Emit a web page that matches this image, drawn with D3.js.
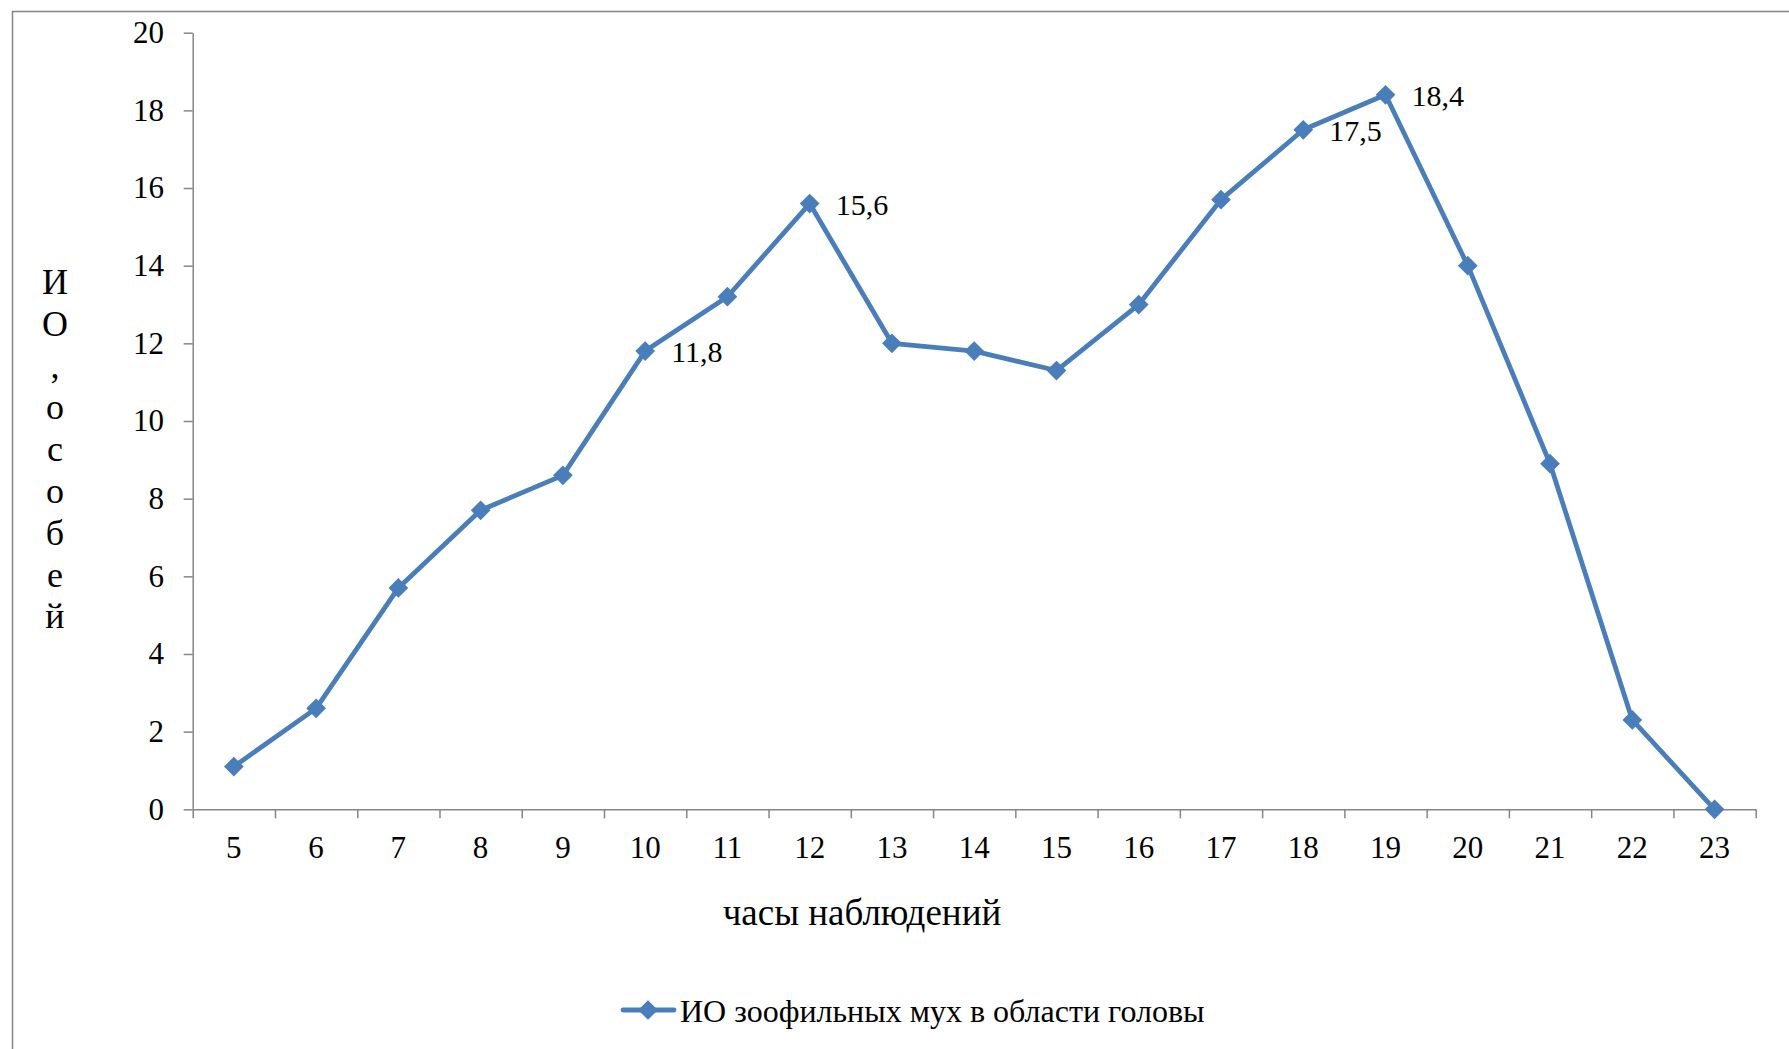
<!DOCTYPE html>
<html>
<head>
<meta charset="utf-8">
<script src="https://cdn.jsdelivr.net/npm/d3@7/dist/d3.min.js"></script>
<style>
  html, body { margin: 0; padding: 0; background: #fff; }
  svg { display: block; }
  text { font-family: "Liberation Serif", "Times New Roman", serif; fill: #000; }
</style>
</head>
<body>
<svg id="chart" width="1789" height="1049"></svg>
<script>
// Hours of observation
const hours = [5, 6, 7, 8, 9, 10, 11, 12, 13, 14, 15, 16, 17, 18, 19, 20, 21, 22, 23];
// Abundance index (individuals) of zoophilic flies on the head region
const values = [1.1, 2.6, 5.7, 7.7, 8.6, 11.8, 13.2, 15.6, 12.0, 11.8, 11.3, 13.0, 15.7, 17.5, 18.4, 14.0, 8.9, 2.3, 0];
// Points that carry a value label
const labelledHours = [10, 12, 18, 19];
const yTicks = [0, 2, 4, 6, 8, 10, 12, 14, 16, 18, 20];

const seriesName = "ИО зоофильных мух в области головы";
const xTitle = "часы наблюдений";
const yTitle = "ИО, особей";

const W = 1789, H = 1049;
const plot = { left: 192.7, right: 1755.7, top: 32.7, bottom: 809.3 };
const lineColor = "#4a7ebb";
const axisColor = "#868686";
const tickFont = 31;
const labelFont = 30;
const titleFont = 37;
const legendFont = 32;

const svg = d3.select("#chart");

// outer chart frame
svg.append("rect")
  .attr("x", 12.5).attr("y", 11.5)
  .attr("width", W + 20).attr("height", H + 20)
  .attr("fill", "none").attr("stroke", axisColor).attr("stroke-width", 1.5);

const x = d3.scaleBand().domain(hours).range([plot.left, plot.right]).padding(0);
const xEdges = d3.scaleLinear().domain([0, hours.length]).range([plot.left, plot.right]);
const y = d3.scaleLinear().domain([0, 20]).range([plot.bottom, plot.top]);

const cx = h => x(h) + x.bandwidth() / 2;

// y axis
const yAxis = svg.append("g")
  .attr("transform", `translate(${plot.left},0)`)
  .call(d3.axisLeft(y).tickValues(yTicks).tickSize(9).tickPadding(19.7).tickSizeOuter(0));

// x axis: tick marks on category boundaries
const xAxisTicks = svg.append("g")
  .attr("transform", `translate(0,${plot.bottom})`)
  .call(d3.axisBottom(xEdges).tickValues(d3.range(hours.length + 1)).tickSize(9).tickSizeOuter(0).tickFormat(""));

// x axis labels at category centres
const xAxisLabels = svg.append("g")
  .attr("transform", `translate(0,${plot.bottom})`)
  .call(d3.axisBottom(x).tickSize(0).tickPadding(27));
xAxisLabels.select(".domain").remove();

[yAxis, xAxisTicks, xAxisLabels].forEach(g => {
  g.selectAll(".domain").attr("stroke", axisColor).attr("stroke-width", 1.5);
  g.selectAll(".tick line").attr("stroke", axisColor).attr("stroke-width", 1.5);
  g.selectAll("text")
    .style("font-family", '"Liberation Serif", "Times New Roman", serif')
    .style("font-size", tickFont + "px")
    .attr("fill", "#000");
});

// series line
const data = hours.map((h, i) => ({ h, v: values[i] }));
svg.append("path")
  .datum(data)
  .attr("fill", "none")
  .attr("stroke", lineColor)
  .attr("stroke-width", 4.8)
  .attr("stroke-linejoin", "round")
  .attr("d", d3.line().x(d => cx(d.h)).y(d => y(d.v)));

// diamond markers
const diamond = d3.symbol().type(d3.symbolSquare).size(195);
svg.append("g").selectAll("path")
  .data(data)
  .join("path")
  .attr("d", diamond)
  .attr("fill", lineColor)
  .attr("transform", d => `translate(${cx(d.h)},${y(d.v)}) rotate(45)`);

// value labels to the right of selected points
svg.append("g").selectAll("text")
  .data(data.filter(d => labelledHours.includes(d.h)))
  .join("text")
  .attr("x", d => cx(d.h) + 26)
  .attr("y", d => y(d.v) + 11)
  .style("font-size", labelFont + "px")
  .text(d => d.v.toFixed(1).replace(".", ","));

// x axis title
svg.append("text")
  .attr("x", 862).attr("y", 925)
  .attr("text-anchor", "middle")
  .style("font-size", titleFont + "px")
  .text(xTitle);

// y axis title, stacked letters
const yChars = Array.from(yTitle.replace(" ", ""));
svg.append("g").selectAll("text")
  .data(yChars)
  .join("text")
  .attr("x", 55)
  .attr("y", (d, i) => 294 + i * 41.8)
  .attr("text-anchor", "middle")
  .style("font-size", (titleFont - 1) + "px")
  .text(d => d);

// legend
const legend = svg.append("g").attr("transform", "translate(0,1010)");
legend.append("line")
  .attr("x1", 623).attr("x2", 674)
  .attr("stroke", lineColor).attr("stroke-width", 4.8).attr("stroke-linecap", "round");
legend.append("path")
  .attr("d", diamond)
  .attr("fill", lineColor)
  .attr("transform", "translate(648,0) rotate(45)");
legend.append("text")
  .attr("x", 680).attr("y", 12)
  .style("font-size", legendFont + "px")
  .text(seriesName);
</script>
</body>
</html>
